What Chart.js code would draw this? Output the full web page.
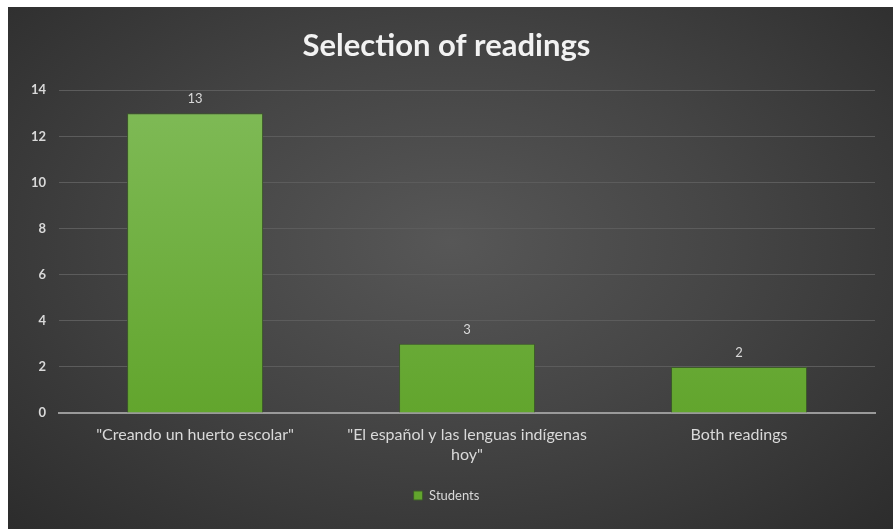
<!DOCTYPE html>
<html>
<head>
    <meta charset="utf-8">
    <title>Selection of readings</title>
    <script src="https://cdn.jsdelivr.net/npm/chart.js@4.4.1/dist/chart.umd.min.js"></script>
    <style>
        html, body {
            margin: 0;
            padding: 0;
            background: #fff;
        }
        .chart-box {
            position: absolute;
            left: 8px;
            top: 7px;
            width: 885px;
            height: 522px;
            background: radial-gradient(ellipse at 50% 45%, #575757 0%, #454545 45%, #2c2c2c 100%);
        }
    </style>
</head>
<body>
    <div class="chart-box">
        <canvas id="readingsChart"></canvas>
    </div>

    <script>
        const categories = [
            '"Creando un huerto escolar"',
            ['"El español y las lenguas indígenas', 'hoy"'],
            'Both readings'
        ];
        const students = [13, 3, 2];
        const yTicks = [0, 2, 4, 6, 8, 10, 12, 14];

        const textColor = '#d9d9d9';
        const font = 'Lato, "Open Sans", sans-serif';

        // draws the value above every bar
        const valueLabels = {
            id: 'valueLabels',
            afterDatasetsDraw(chart) {
                const ctx = chart.ctx;
                ctx.save();
                ctx.fillStyle = textColor;
                ctx.font = '13px ' + font;
                ctx.textAlign = 'center';
                ctx.textBaseline = 'bottom';
                chart.getDatasetMeta(0).data.forEach((bar, i) => {
                    ctx.fillText(students[i], bar.x, bar.y - 8);
                });
                ctx.restore();
            }
        };

        function barGradient(context) {
            const area = context.chart.chartArea;
            if (!area) return '#6cb33f';
            const g = context.chart.ctx.createLinearGradient(0, area.top, 0, area.bottom);
            g.addColorStop(0, '#80bb58');
            g.addColorStop(1, '#62a52d');
            return g;
        }

        const ctx = document.getElementById('readingsChart').getContext('2d');
        new Chart(ctx, {
            type: 'bar',
            data: {
                labels: categories,
                datasets: [{
                    label: 'Students',
                    data: students,
                    backgroundColor: barGradient,
                    borderColor: '#3d5a2a',
                    borderWidth: 1,
                    categoryPercentage: 1,
                    barPercentage: 0.5
                }]
            },
            options: {
                responsive: true,
                maintainAspectRatio: false,
                animation: false,
                layout: {
                    padding: { left: 10, right: 18, top: 0, bottom: 17 }
                },
                scales: {
                    y: {
                        min: 0,
                        max: 14,
                        afterBuildTicks(axis) {
                            axis.ticks = yTicks.map(v => ({ value: v }));
                        },
                        grid: {
                            color: '#5c5c5c',
                            lineWidth: 1,
                            drawTicks: false
                        },
                        border: { display: false },
                        ticks: {
                            color: textColor,
                            font: { family: font, size: 13, weight: 'bold' },
                            padding: 13
                        }
                    },
                    x: {
                        grid: { display: false, drawTicks: false },
                        border: { display: true, color: '#9a9a9a', width: 2 },
                        ticks: {
                            color: textColor,
                            font: { family: font, size: 16, lineHeight: 1.25 },
                            padding: 12,
                            maxRotation: 0
                        }
                    }
                },
                plugins: {
                    title: {
                        display: true,
                        text: 'Selection of readings',
                        color: '#f2f2f2',
                        font: { family: font, size: 31, weight: 'bold' },
                        padding: { top: 20, bottom: 26 }
                    },
                    legend: {
                        position: 'bottom',
                        labels: {
                            color: textColor,
                            font: { family: font, size: 13 },
                            boxWidth: 9,
                            boxHeight: 9,
                            padding: 12
                        }
                    },
                    tooltip: { enabled: false }
                }
            },
            plugins: [valueLabels]
        });
    </script>
</body>
</html>
